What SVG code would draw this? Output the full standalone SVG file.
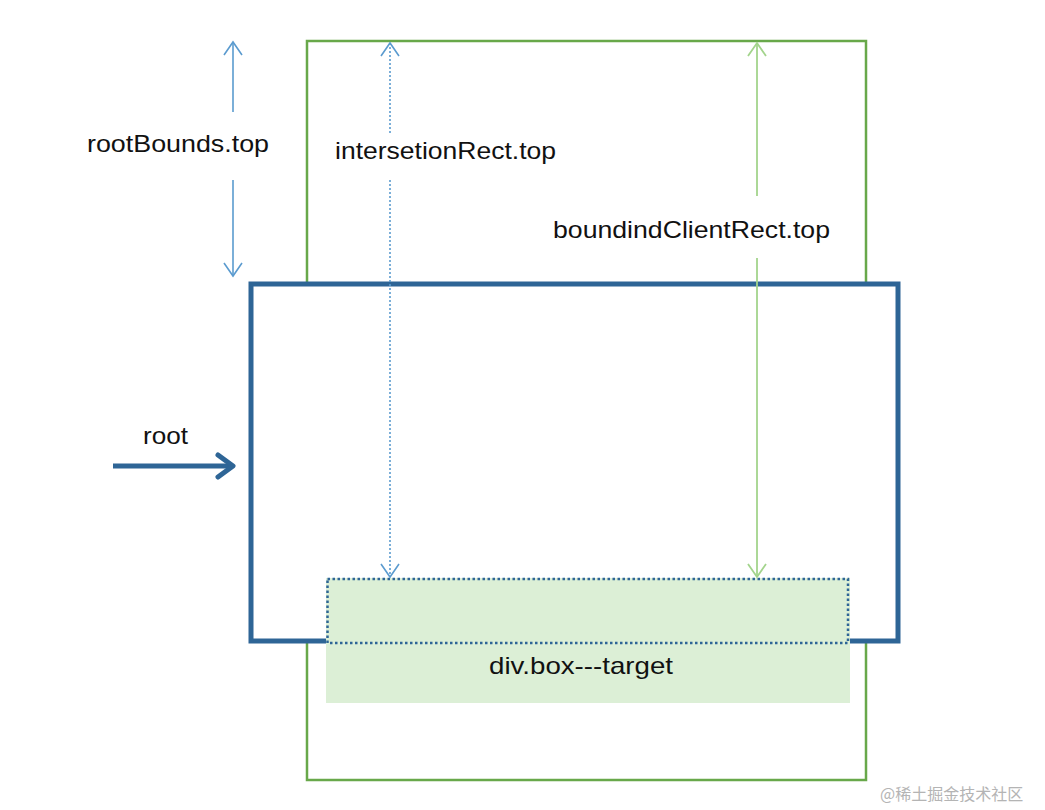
<svg xmlns="http://www.w3.org/2000/svg" width="1045" height="810" viewBox="0 0 1045 810">
<style>
  text { font-family: "Liberation Sans", Arial, sans-serif; font-size: 24px; fill: #111; }
  .blueArrow { stroke: #5b9bcf; stroke-width: 1.6; fill: none; }
  .greenArrow { stroke: #a3d48c; stroke-width: 1.8; fill: none; }
  .dotted { stroke-dasharray: 2 2; }
</style>
<defs>
  <marker id="headBlue" viewBox="0 0 20 20" refX="18" refY="10" markerWidth="20" markerHeight="20" markerUnits="userSpaceOnUse" orient="auto">
    <path d="M5,1 L18,10 L5,19" fill="none" stroke="#5b9bcf" stroke-width="1.6"/>
  </marker>
  <marker id="headGreen" viewBox="0 0 20 20" refX="18" refY="10" markerWidth="20" markerHeight="20" markerUnits="userSpaceOnUse" orient="auto">
    <path d="M5,1 L18,10 L5,19" fill="none" stroke="#a3d48c" stroke-width="1.8"/>
  </marker>
</defs>
<rect width="1045" height="810" fill="#ffffff"/>

<g id="boundingRect">
  <rect x="307" y="41" width="559" height="739" fill="none" stroke="#68a84a" stroke-width="2.5"/>
</g>

<g id="root">
  <rect x="251" y="284" width="647" height="357" fill="#ffffff" stroke="#2e6596" stroke-width="5"/>
</g>

<g id="target">
  <rect x="326" y="578" width="524" height="125" fill="#dcefd6"/>
</g>

<g id="intersectionRect">
  <rect x="327.5" y="579" width="520.5" height="64" fill="none" stroke="#2e6596" stroke-width="2.5" stroke-dasharray="2.5 2.5"/>
</g>

<g id="connectors">
  <line class="blueArrow" x1="233" y1="112" x2="233" y2="42" marker-end="url(#headBlue)"/>
  <line class="blueArrow" x1="233" y1="180" x2="233" y2="276" marker-end="url(#headBlue)"/>
  <line class="blueArrow dotted" x1="390" y1="133" x2="390" y2="43" marker-end="url(#headBlue)"/>
  <line class="blueArrow dotted" x1="390" y1="180" x2="390" y2="577" marker-end="url(#headBlue)"/>
  <line class="greenArrow" x1="757" y1="196" x2="757" y2="43" marker-end="url(#headGreen)"/>
  <line class="greenArrow" x1="757" y1="258" x2="757" y2="577" marker-end="url(#headGreen)"/>
  <line x1="113" y1="466" x2="231" y2="466" stroke="#2e6596" stroke-width="5"/>
  <path d="M218,455 L233,466 L218,477" fill="none" stroke="#2e6596" stroke-width="5" stroke-linecap="round" stroke-linejoin="round"/>
</g>

<g id="labels">
  <text x="87" y="152" textLength="182" lengthAdjust="spacingAndGlyphs">rootBounds.top</text>
  <text x="335" y="159" textLength="221" lengthAdjust="spacingAndGlyphs">intersetionRect.top</text>
  <text x="553" y="238" textLength="277" lengthAdjust="spacingAndGlyphs">boundindClientRect.top</text>
  <text x="143" y="444" textLength="45" lengthAdjust="spacingAndGlyphs">root</text>
  <text x="489" y="674" textLength="184" lengthAdjust="spacingAndGlyphs">div.box---target</text>
</g>

<text x="880" y="800" style="font-family: 'Noto Sans CJK SC', sans-serif; font-size: 16px; fill: #b4b4b4;">@稀土掘金技术社区</text>
</svg>
